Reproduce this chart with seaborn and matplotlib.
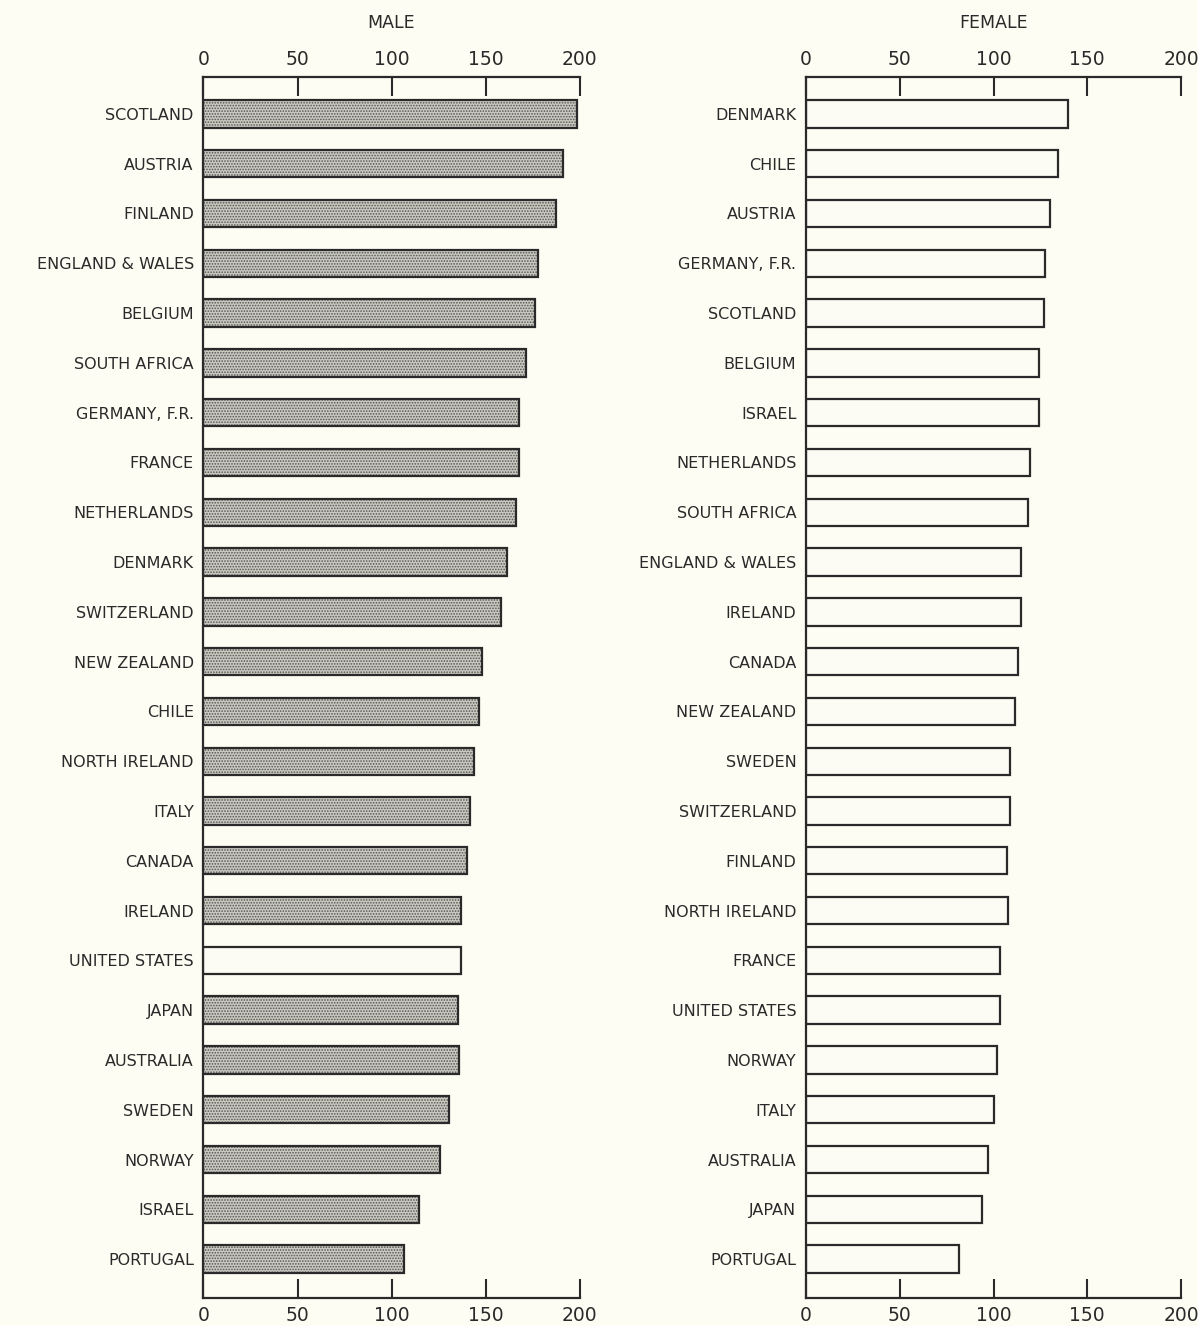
import matplotlib
matplotlib.use("Agg")
import matplotlib.pyplot as plt
import seaborn as sns

# values (bar lengths)
male_countries = ["SCOTLAND", "AUSTRIA", "FINLAND", "ENGLAND & WALES", "BELGIUM",
                  "SOUTH AFRICA", "GERMANY, F.R.", "FRANCE", "NETHERLANDS", "DENMARK",
                  "SWITZERLAND", "NEW ZEALAND", "CHILE", "NORTH IRELAND", "ITALY",
                  "CANADA", "IRELAND", "UNITED STATES", "JAPAN", "AUSTRALIA",
                  "SWEDEN", "NORWAY", "ISRAEL", "PORTUGAL"]
male_values = [198.5, 191.1, 187.3, 178.1, 176.3, 171.5, 168.0, 168.0, 166.1, 161.6,
               158.2, 148.0, 146.4, 144.0, 141.8, 140.2, 137.0, 136.8, 135.5, 135.7,
               130.7, 126.0, 114.6, 106.6]

female_countries = ["DENMARK", "CHILE", "AUSTRIA", "GERMANY, F.R.", "SCOTLAND",
                    "BELGIUM", "ISRAEL", "NETHERLANDS", "SOUTH AFRICA", "ENGLAND & WALES",
                    "IRELAND", "CANADA", "NEW ZEALAND", "SWEDEN", "SWITZERLAND",
                    "FINLAND", "NORTH IRELAND", "FRANCE", "UNITED STATES", "NORWAY",
                    "ITALY", "AUSTRALIA", "JAPAN", "PORTUGAL"]
female_values = [139.7, 134.6, 130.1, 127.6, 126.8, 124.3, 124.1, 119.5, 118.4, 114.7,
                 114.5, 113.2, 111.3, 108.8, 108.6, 107.0, 107.6, 103.5, 103.3, 101.7,
                 100.4, 97.1, 93.9, 81.6]

x_ticks = [0, 50, 100, 150, 200]

bg = "#fdfdf3"
ink = "#2a2a2a"
stipple = "#cbcbc2"

sns.set_theme(style="white")
plt.rcParams["font.family"] = ["DejaVu Sans"]
plt.rcParams["hatch.linewidth"] = 0.8

fig = plt.figure(figsize=(11.98, 13.26), dpi=100, facecolor=bg)
ax_m = fig.add_axes([203.5 / 1198, 1 - 1298 / 1326, 376 / 1198, 1221 / 1326])
ax_f = fig.add_axes([806 / 1198, 1 - 1298 / 1326, 375 / 1198, 1221 / 1326])


def draw_panel(ax, countries, values, shaded, title):
    ax.set_facecolor(bg)
    fills = [stipple if s else bg for s in shaded]
    # fill layer (with stipple dots)
    sns.barplot(x=values, y=countries, hue=countries, palette=fills, legend=False,
                width=0.55, linewidth=0, ax=ax)
    for patch, s in zip(ax.patches, shaded):
        if s:
            patch.set_hatch("......")
            patch.set_edgecolor("#55554f")
        else:
            patch.set_edgecolor("none")
    # outline layer
    sns.barplot(x=values, y=countries, fill=False, color=ink,
                width=0.55, linewidth=1.6, ax=ax)

    ax.set_xlim(0, 200)
    ax.set_ylim(23.78, -0.74)
    ax.set_xticks(x_ticks)
    ax.set_xlabel("")
    ax.set_ylabel("")
    for side in ["left", "top", "bottom"]:
        ax.spines[side].set_visible(True)
        ax.spines[side].set_color(ink)
        ax.spines[side].set_linewidth(1.6)
    ax.spines["right"].set_visible(False)
    ax.tick_params(axis="x", which="both", top=True, bottom=True, labeltop=True,
                   labelbottom=True, direction="in", length=14, width=1.5,
                   color=ink, labelsize=13.5, labelcolor=ink, pad=6)
    ax.tick_params(axis="y", length=0, labelsize=11.5, labelcolor=ink, pad=7)
    ax.text(0.5, 1.0 + 49 / 1221, title, transform=ax.transAxes, ha="center",
            va="baseline", fontsize=12.5, color=ink)


draw_panel(ax_m, male_countries, male_values,
           [c != "UNITED STATES" for c in male_countries], "MALE")
draw_panel(ax_f, female_countries, female_values,
           [False] * len(female_countries), "FEMALE")

fig.savefig("out.png", dpi=100, facecolor=bg)
